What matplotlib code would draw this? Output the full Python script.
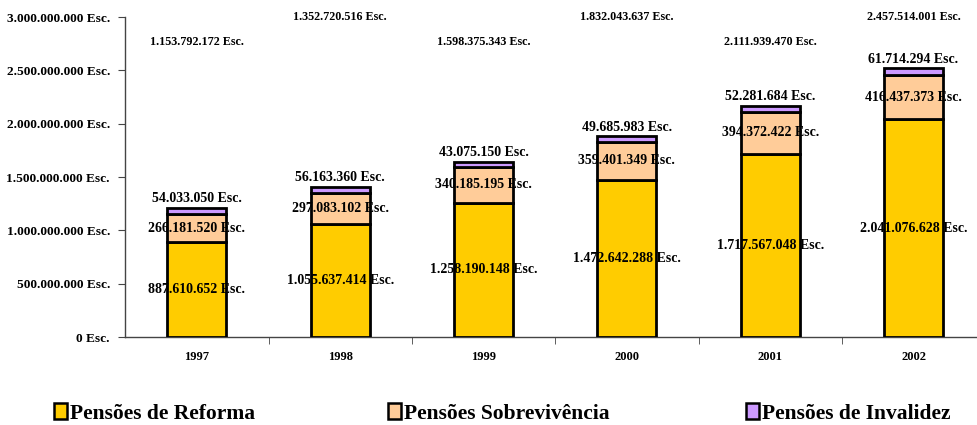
import matplotlib
matplotlib.use("Agg")
import matplotlib.pyplot as plt
from matplotlib.patches import Patch
import numpy as np

years = ["1997", "1998", "1999", "2000", "2001", "2002"]
reforma = [887610652, 1055637414, 1258190148, 1472642288, 1717567048, 2041076628]
sobrevivencia = [266181520, 297083102, 340185195, 359401349, 394372422, 416437373]
invalidez = [54033050, 56163360, 43075150, 49685983, 52281684, 61714294]
totais = [1153792172, 1352720516, 1598375343, 1832043637, 2111939470, 2457514001]
series_names = ["Pensões de Reforma", "Pensões Sobrevivência", "Pensões de Invalidez"]

colors = ["#FFCC00", "#FFCC99", "#CC99FF"]
total_label_y = [2.77e9, 3.0e9, 2.77e9, 3.0e9, 2.77e9, 3.0e9]

def fmt(v):
    return f"{v:,}".replace(",", ".") + " Esc."

plt.rcParams['font.family'] = ['Liberation Serif', 'DejaVu Serif']
plt.rcParams['font.weight'] = 'bold'

fig = plt.figure(figsize=(9.78, 4.25), dpi=100)
ax = fig.add_axes([0.128, 0.207, 0.872, 0.753])

x = np.arange(len(years))
w = 0.41
r = np.array(reforma)
s = np.array(sobrevivencia)
inv = np.array(invalidez)
ax.bar(x, r, w, color=colors[0], edgecolor="black", linewidth=2, zorder=3)
ax.bar(x, s, w, bottom=r, color=colors[1], edgecolor="black", linewidth=2, zorder=3)
ax.bar(x, inv, w, bottom=r + s, color=colors[2], edgecolor="black", linewidth=2, zorder=3)

for i in range(len(years)):
    ax.text(x[i], r[i] / 2, fmt(reforma[i]), ha="center", va="center",
            fontsize=10, fontweight="bold", zorder=5)
    ax.text(x[i], r[i] + s[i] / 2, fmt(sobrevivencia[i]), ha="center", va="center",
            fontsize=10, fontweight="bold", zorder=5)
    ax.annotate(fmt(invalidez[i]), (x[i], r[i] + s[i] + inv[i]), xytext=(0, 2),
                textcoords="offset points", ha="center", va="bottom",
                fontsize=10, fontweight="bold", zorder=5)
    ax.text(x[i], total_label_y[i], fmt(totais[i]), ha="center", va="center",
            fontsize=8.7, fontweight="bold", zorder=5)

ax.set_xlim(-0.5, 5.45)
ax.set_ylim(0, 3e9)
ax.set_yticks(np.arange(0, 3.0e9 + 1, 5e8))
ax.set_yticklabels([fmt(int(v)) for v in np.arange(0, 3.0e9 + 1, 5e8)],
                   fontsize=9.6, fontweight="bold")
ax.set_xticks(x)
ax.set_xticklabels(years, fontsize=9, fontweight="bold")
ax.tick_params(axis="x", which="major", length=0, pad=10)
ax.set_xticks(np.arange(0.5, 5.5, 1), minor=True)
ax.tick_params(axis="x", which="minor", length=5, direction="out", color="#444")
ax.tick_params(axis="y", length=5, direction="out", color="#444", pad=6)
for sp in ["top", "right"]:
    ax.spines[sp].set_visible(False)
for sp in ["left", "bottom"]:
    ax.spines[sp].set_color("#444")
    ax.spines[sp].set_linewidth(1)

leg_x = [0.055, 0.397, 0.763]
for i in range(3):
    h = Patch(facecolor=colors[i], edgecolor="black", linewidth=1.8)
    fig.legend([h], [series_names[i]], loc="center left",
               bbox_to_anchor=(leg_x[i], 0.027), frameon=False,
               prop={"size": 15.5, "weight": "bold"},
               handlelength=0.6, handleheight=0.7, handletextpad=0.15,
               borderpad=0, borderaxespad=0)

fig.savefig("out.png", dpi=100)
